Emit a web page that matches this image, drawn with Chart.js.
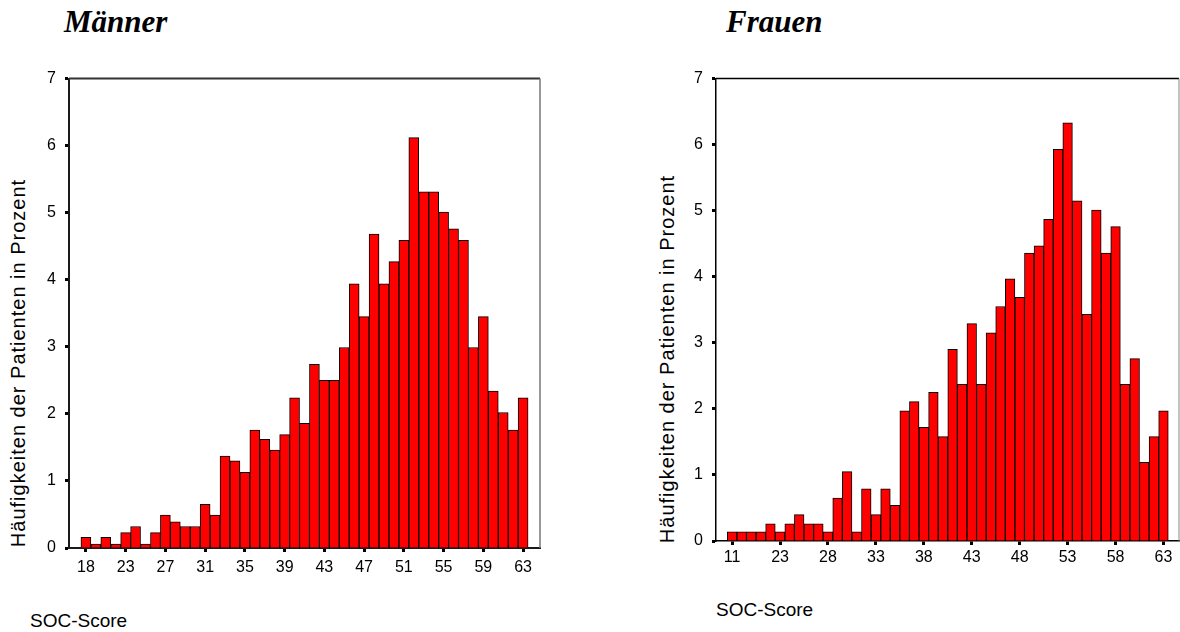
<!DOCTYPE html>
<html lang="de">
<head>
<meta charset="utf-8">
<title>SOC-Score Männer / Frauen</title>
<script src="https://cdn.jsdelivr.net/npm/chart.js@4"></script>
<style>

    html, body {
        margin: 0;
        padding: 0;
        background: #ffffff;
        width: 1180px;
        height: 632px;
        overflow: hidden;
        font-family: "Liberation Sans", Arial, sans-serif;
        color: #000;
    }

    .box {
        position: absolute;
    }

    .title {
        position: absolute;
        font-family: "Liberation Serif", "Times New Roman", serif;
        font-weight: bold;
        font-style: italic;
        font-size: 31px;
        line-height: 31px;
        white-space: nowrap;
    }

    .ytitle {
        position: absolute;
        font-size: 20px;
        letter-spacing: 1px;
        white-space: nowrap;
        transform: translate(-50%, -50%) rotate(-90deg);
    }

    .xtitle {
        position: absolute;
        font-size: 19px;
        white-space: nowrap;
    }

</style>
</head>
<body>

<div class="title" style="left:64px; top:6px;">Männer</div>
<div class="title" style="left:726px; top:6px;">Frauen</div>

<div class="ytitle" style="left:18px; top:363px;">Häufigkeiten der Patienten in Prozent</div>
<div class="ytitle" style="left:667px; top:359px;">Häufigkeiten der Patienten in Prozent</div>

<div class="xtitle" style="left:30px; top:610px;">SOC-Score</div>
<div class="xtitle" style="left:716px; top:599px;">SOC-Score</div>

<div class="box" style="left:0px; top:60px; width:560px; height:530px;">
    <canvas id="menChart"></canvas>
</div>

<div class="box" style="left:640px; top:60px; width:540px; height:530px;">
    <canvas id="womenChart"></canvas>
</div>

<script>

/* =========================
DATA
========================= */

const menScores = [
    18, 19, 20, 22, 23, 24, 25, 26, 27, 28, 29, 30, 31, 32, 33, 34, 35,
    36, 37, 38, 39, 40, 41, 42, 43, 44, 45, 46, 47, 48, 49, 50, 51, 52,
    53, 54, 55, 56, 57, 58, 59, 60, 61, 62, 63
];

const menPercent = [
    0.16, 0.06, 0.16, 0.06, 0.23, 0.32, 0.06, 0.23, 0.49, 0.39,
    0.32, 0.32, 0.65, 0.49, 1.37, 1.30, 1.13, 1.76, 1.62, 1.46,
    1.69, 2.24, 1.86, 2.74, 2.50, 2.50, 2.99, 3.94, 3.45, 4.68,
    3.94, 4.27, 4.59, 6.12, 5.31, 5.31, 5.01, 4.76, 4.59, 2.99,
    3.45, 2.34, 2.02, 1.76, 2.24
];

const menTicks = [18, 23, 27, 31, 35, 39, 43, 47, 51, 55, 59, 63];

const womenScores = [
    11, 16, 19, 21, 22, 23, 24, 25, 26, 27, 28, 29, 30, 31, 32, 33,
    34, 35, 36, 37, 38, 39, 40, 41, 42, 43, 44, 45, 46, 47, 48, 49,
    50, 51, 52, 53, 54, 55, 56, 57, 58, 59, 60, 61, 62, 63
];

const womenPercent = [
    0.14, 0.14, 0.14, 0.14, 0.26, 0.14, 0.26, 0.40, 0.26, 0.26,
    0.14, 0.65, 1.05, 0.14, 0.79, 0.40, 0.79, 0.54, 1.97, 2.11,
    1.72, 2.25, 1.58, 2.90, 2.37, 3.29, 2.37, 3.15, 3.55, 3.97,
    3.69, 4.36, 4.47, 4.87, 5.93, 6.33, 5.15, 3.43, 5.01, 4.36,
    4.76, 2.37, 2.76, 1.19, 1.58, 1.97
];

const womenTicks = [11, 23, 28, 33, 38, 43, 48, 53, 58, 63];

/* =========================
DEFAULTS
========================= */

Chart.defaults.font.family = "'Liberation Sans', Arial, sans-serif";
Chart.defaults.font.size = 16;
Chart.defaults.color = "#000000";

/* =========================
FRAME PLUGIN (top + right edge)
========================= */

const framePlugin = {

    id: "frame",

    afterDraw(chart, args, opts) {

        const a = chart.chartArea;
        const ctx = chart.ctx;

        ctx.save();

        ctx.strokeStyle = opts.topColor;
        ctx.lineWidth = opts.topWidth;
        ctx.beginPath();
        ctx.moveTo(a.left, a.top);
        ctx.lineTo(a.right, a.top);
        ctx.stroke();

        ctx.strokeStyle = opts.rightColor;
        ctx.lineWidth = opts.rightWidth;
        ctx.beginPath();
        ctx.moveTo(a.right, a.top);
        ctx.lineTo(a.right, a.bottom);
        ctx.stroke();

        ctx.restore();

    }

};

/* =========================
HISTOGRAM
========================= */

function renderHistogram(id, scores, values, ticks, cfg) {

    const points = values.map((v, i) => ({ x: i, y: v }));

    return new Chart(document.getElementById(id), {

        type: "bar",

        data: {

            datasets: [

                {

                    data: points,

                    backgroundColor: "#ff0000",

                    borderColor: "#000000",

                    borderWidth: 1,

                    barPercentage: 1,

                    categoryPercentage: 1

                }

            ]

        },

        options: {

            responsive: true,

            maintainAspectRatio: false,

            animation: false,

            layout: {

                padding: {
                    top: cfg.padTop,
                    right: cfg.padRight,
                    left: 0,
                    bottom: 0
                }

            },

            plugins: {

                legend: { display: false },

                tooltip: { enabled: false },

                frame: cfg.frame

            },

            scales: {

                x: {

                    type: "linear",

                    offset: false,

                    min: cfg.xMin,

                    max: cfg.xMax,

                    afterBuildTicks: scale => {

                        scale.ticks = ticks.map(t => ({
                            value: scores.indexOf(t)
                        }));

                    },

                    afterFit: scale => {

                        scale.height = cfg.xHeight;

                    },

                    ticks: {

                        autoSkip: false,

                        maxRotation: 0,

                        padding: cfg.xPad,

                        callback: value => scores[value]

                    },

                    grid: {

                        offset: false,

                        drawOnChartArea: false,

                        drawTicks: true,

                        tickLength: 4,

                        tickWidth: 3,

                        tickColor: "#000000"

                    },

                    border: {

                        color: cfg.axisColor,

                        width: cfg.axisWidth

                    }

                },

                y: {

                    min: 0,

                    max: 7,

                    afterFit: scale => {

                        scale.width = cfg.yWidth;

                    },

                    ticks: {

                        stepSize: 1,

                        padding: 9

                    },

                    grid: {

                        drawOnChartArea: false,

                        drawTicks: true,

                        tickLength: 4,

                        tickWidth: 3,

                        tickColor: "#000000"

                    },

                    border: {

                        color: cfg.axisColor,

                        width: cfg.axisWidth

                    }

                }

            }

        },

        plugins: [framePlugin]

    });

}

/* =========================
INITIALIZE
========================= */

renderHistogram("menChart", menScores, menPercent, menTicks, {

    padTop: 15,
    padRight: 20,
    yWidth: 69,
    xHeight: 42,
    xPad: 6,
    xMin: -1.7,
    xMax: 45.7,
    axisColor: "#1a1a1a",
    axisWidth: 2,
    frame: {
        topColor: "#333333",
        topWidth: 2,
        rightColor: "#777777",
        rightWidth: 1.5
    }

});

renderHistogram("womenChart", womenScores, womenPercent, womenTicks, {

    padTop: 14,
    padRight: 1,
    yWidth: 76,
    xHeight: 49,
    xPad: 3,
    xMin: -1.68,
    xMax: 46.62,
    axisColor: "#000000",
    axisWidth: 1.5,
    frame: {
        topColor: "#000000",
        topWidth: 1.5,
        rightColor: "#888888",
        rightWidth: 1
    }

});

</script>
</body>
</html>
